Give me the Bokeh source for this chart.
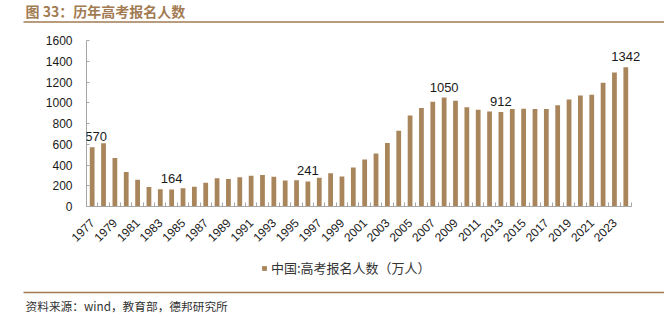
import math
from bokeh.plotting import figure
from bokeh.layouts import column
from bokeh.models import Range1d, FixedTicker, Legend, LegendItem, ColumnDataSource, LabelSet
from bokeh.core.properties import value
from bokeh.embed import file_html
from bokeh.resources import INLINE

years = list(range(1977, 2025))
applicants = [570, 610, 468, 333, 259, 187, 167, 164, 176, 191,
              228, 272, 266, 283, 296, 303, 286, 251, 253, 241,
              278, 320, 288, 375, 454, 510, 613, 729, 877, 950,
              1010, 1050, 1020, 957, 933, 915, 912, 939, 942, 940,
              940, 975, 1031, 1071, 1078, 1193, 1291, 1342]
label_years = [1977, 1984, 1996, 2008, 2013, 2024]
tick_years = list(range(1977, 2024, 2))
y_ticks = [0, 200, 400, 600, 800, 1000, 1200, 1400, 1600]

title_text = "图 33：历年高考报名人数"
series_name = "中国:高考报名人数（万人）"
source_text = "资料来源：wind，教育部，德邦研究所"

BAR = "#A9855B"
BROWN = "#A27B52"
CJK = "Noto Sans CJK SC"
LAT = "Liberation Sans"
W = 664


def blank(h):
    f = figure(width=W, height=h, x_range=Range1d(0, W), y_range=Range1d(h, 0),
               output_backend="svg", toolbar_location=None, min_border=0,
               x_axis_location=None, y_axis_location=None)
    f.grid.visible = False
    f.outline_line_color = None
    f.frame_align = False
    return f


# header
head = blank(27)
head.text(x=[25], y=[10], text=[title_text], text_font=value(CJK),
          text_font_size="14px", text_font_style="bold", text_color=BROWN,
          text_baseline="middle")
head.segment(x0=[23], y0=[21.5], x1=[W], y1=[21.5], line_color=BROWN, line_width=1.5)

# main chart: frame extends a little right of the axis so the last value label is not clipped
x_lo, x_hi = 1976.5, 2024.5
px_per_year = 11.333
p = figure(width=W, height=228,
           x_range=Range1d(x_lo, x_hi + 11 / px_per_year),
           y_range=Range1d(0, 1600),
           output_backend="svg", toolbar_location=None,
           min_border_left=86, min_border_right=22, min_border_top=13, min_border_bottom=49)
p.frame_align = False
p.outline_line_color = None
p.grid.visible = False

src = ColumnDataSource(dict(x=years, top=applicants))
bars = p.vbar(x="x", top="top", width=0.42, source=src, fill_color=BAR, line_color=None)

lab_vals = [applicants[years.index(y)] for y in label_years]
lab_off = [4 if y == years[0] else 0 for y in label_years]
lab_src = ColumnDataSource(dict(x=label_years, y=lab_vals, t=[str(v) for v in lab_vals], dx=lab_off))
p.add_layout(LabelSet(x="x", y="y", text="t", source=lab_src, text_font=value(LAT),
                      text_font_size="13px", text_color="#1a1a1a", text_align="center",
                      text_baseline="bottom", y_offset=6, x_offset="dx"))

p.xaxis.bounds = (x_lo, x_hi)
p.xaxis.ticker = FixedTicker(ticks=tick_years, minor_ticks=[y + 0.5 for y in range(1976, 2025)])
p.xaxis.major_label_orientation = math.pi / 4
p.xaxis.major_tick_in = 0
p.xaxis.major_tick_out = 0
p.xaxis.minor_tick_in = 4
p.xaxis.minor_tick_out = 0
p.yaxis.ticker = FixedTicker(ticks=y_ticks)
p.yaxis.major_tick_in = 3
p.yaxis.major_tick_out = 0
for ax in (p.xaxis, p.yaxis):
    ax.axis_line_color = "#a6a6a6"
    ax.major_tick_line_color = "#a6a6a6"
    ax.major_label_text_font = LAT
    ax.major_label_text_font_size = "12px"
    ax.major_label_text_color = "#1a1a1a"
p.xaxis.minor_tick_line_color = "#a6a6a6"
p.yaxis.minor_tick_line_color = None
p.yaxis.major_label_standoff = 14
p.xaxis.major_label_standoff = 14

# footer with legend and source
foot = blank(66)
legend_r = foot.vbar(x=[-500], top=[-500], width=1, fill_color=BAR, line_color=None)
legend = Legend(items=[LegendItem(label=series_name, renderers=[legend_r])],
                location=(261, 44), orientation="horizontal",
                glyph_width=6, glyph_height=6, label_height=12, label_standoff=4,
                label_text_font=CJK, label_text_font_size="13px", label_text_color="#333333",
                padding=0, margin=0, spacing=0, border_line_color=None,
                background_fill_alpha=0)
foot.add_layout(legend, "center")
foot.segment(x0=[23], y0=[37], x1=[W], y1=[37], line_color=BROWN, line_width=1.5)
foot.text(x=[25], y=[50], text=[source_text], text_font=value(CJK),
          text_font_size="11.7px", text_color="#333333", text_baseline="middle")

layout = column(head, p, foot, spacing=0)
open("out.html", "w").write(file_html(layout, INLINE))
